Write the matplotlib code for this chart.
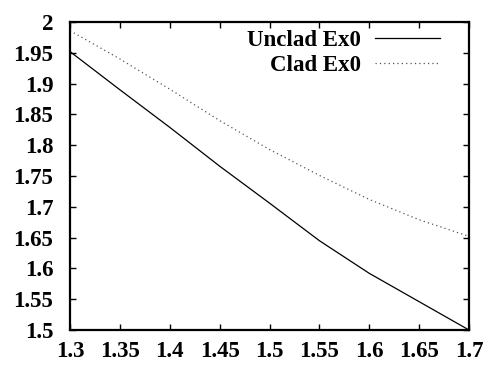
import matplotlib
matplotlib.use("Agg")
import matplotlib.pyplot as plt

# wavelength values
wl = [1.30, 1.35, 1.40, 1.45, 1.50, 1.55, 1.60, 1.65, 1.70]
unclad_ex0 = [1.952, 1.890, 1.829, 1.766, 1.706, 1.645, 1.592, 1.546, 1.500]
clad_ex0 = [1.986, 1.940, 1.891, 1.840, 1.793, 1.751, 1.712, 1.679, 1.652]

xticks = [1.3, 1.35, 1.4, 1.45, 1.5, 1.55, 1.6, 1.65, 1.7]
yticks = [1.5, 1.55, 1.6, 1.65, 1.7, 1.75, 1.8, 1.85, 1.9, 1.95, 2]

plt.rcParams['font.family'] = ['Liberation Serif', 'DejaVu Serif']

fig = plt.figure(figsize=(4.88, 3.65), dpi=100)
ax = fig.add_axes([70 / 488, 35 / 365, 399 / 488, 308 / 365])

ax.plot(wl, unclad_ex0, color='black', lw=0.9, label='Unclad Ex0')
ax.plot(wl, clad_ex0, color='#555555', lw=0.9, ls=(0, (1, 2.5)), label='Clad Ex0')

ax.set_xlim(1.3, 1.7)
ax.set_ylim(1.5, 2.0)
ax.set_xticks(xticks)
ax.set_xticklabels(['%g' % t for t in xticks], fontweight='bold')
ax.set_yticks(yticks)
ax.set_yticklabels(['%g' % t for t in yticks], fontweight='bold')
ax.tick_params(direction='in', length=4, width=1, top=True, right=True,
               labelsize=16.5)
ax.tick_params(axis='x', pad=8)
ax.tick_params(axis='y', pad=12)
for s in ax.spines.values():
    s.set_linewidth(1.6)

leg = ax.legend(loc='upper right', bbox_to_anchor=(370 / 399, 0.975),
                frameon=False, markerfirst=False,
                prop={'size': 16.5, 'weight': 'bold'}, handlelength=2.85,
                handletextpad=0.6, labelspacing=0.2, borderaxespad=0,
                borderpad=0)
for t in leg.get_texts():
    t.set_ha('right')

fig.savefig('out.png', dpi=100)
